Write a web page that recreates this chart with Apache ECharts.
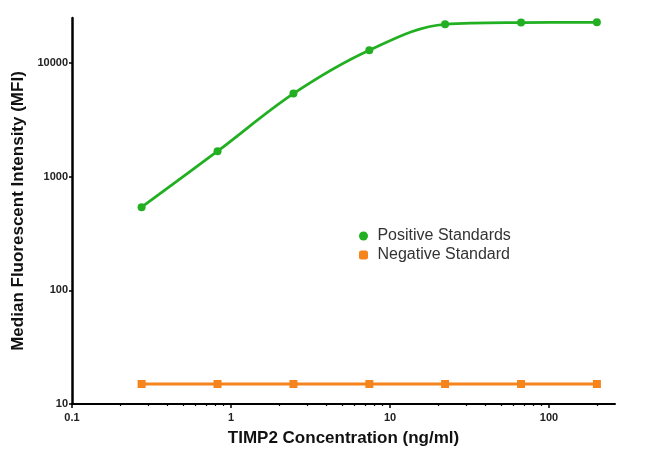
<!DOCTYPE html>
<html>
<head>
<meta charset="utf-8">
<script src="https://cdn.jsdelivr.net/npm/echarts@6/dist/echarts.min.js"></script>
<style>html,body{margin:0;padding:0;background:#fff}#c{width:650px;height:455px}</style>
</head>
<body>
<div id="c"></div>
<script>
var concentrations = [0.274, 0.823, 2.47, 7.41, 22.2, 66.7, 200];
var positiveMFI = [540, 1680, 5400, 13000, 22000, 22800, 22900];
var negativeMFI = [15, 15, 15, 15, 15, 15, 15];
var xMajorTicks = [0.1, 1, 10, 100];
var xMinorTicks = [0.2,0.3,0.4,0.5,0.6,0.7,0.8,0.9,2,3,4,5,6,7,8,9,20,30,40,50,60,70,80,90,200];
var yMajorTicks = [10, 100, 1000, 10000];
var seriesNames = ['Positive Standards', 'Negative Standard'];

var chart = echarts.init(document.getElementById('c'), null, {renderer: 'canvas'});
var FONT = 'Liberation Sans, Arial, sans-serif';
function pairs(xs, ys) { return xs.map(function (x, i) { return [x, ys[i]]; }); }

chart.setOption({
  animation: false,
  backgroundColor: '#fff',
  grid: {left: 72, right: 35, top: 18, bottom: 51},
  legend: {
    left: 354, top: 223, orient: 'vertical', itemGap: 3,
    itemWidth: 9, itemHeight: 9,
    formatter: function (n) { return ' ' + n; },
    textStyle: {fontFamily: FONT, fontSize: 16, color: '#333'},
    data: [
      {name: seriesNames[0], icon: 'circle'},
      {name: seriesNames[1], icon: 'roundRect'}
    ]
  },
  xAxis: [{
    type: 'log', logBase: 10, min: 0.1, max: 260,
    name: 'TIMP2 Concentration (ng/ml)', nameLocation: 'middle', nameGap: 26,
    nameTextStyle: {fontFamily: FONT, fontSize: 17, fontWeight: 'bold', color: '#111'},
    axisLine: {lineStyle: {color: '#000', width: 2}},
    axisTick: {show: true, length: 4, lineStyle: {color: '#000', width: 1.5}, customValues: xMajorTicks},
    axisLabel: {customValues: xMajorTicks, fontFamily: FONT, fontSize: 11, fontWeight: 'bold', color: '#222', margin: 8,
      formatter: function (v) { return String(+v.toPrecision(6)); }},
    splitLine: {show: false}
  }, {
    type: 'log', logBase: 10, min: 0.1, max: 260, position: 'bottom',
    axisLine: {show: false},
    axisTick: {show: true, length: 2, lineStyle: {color: '#000', width: 1.2}, customValues: xMinorTicks},
    axisLabel: {show: false},
    splitLine: {show: false}
  }],
  yAxis: {
    type: 'log', logBase: 10, min: 10, max: 25000,
    name: 'Median Fluorescent Intensity (MFI)', nameLocation: 'middle', nameGap: 44,
    nameTextStyle: {fontFamily: FONT, fontSize: 17, fontWeight: 'bold', color: '#111'},
    axisLine: {lineStyle: {color: '#000', width: 2.5}},
    axisTick: {show: true, length: 3, lineStyle: {color: '#000', width: 1.5}, customValues: yMajorTicks},
    axisLabel: {customValues: yMajorTicks, fontFamily: FONT, fontSize: 11, fontWeight: 'bold', color: '#222', margin: 4,
      formatter: function (v) { return String(Math.round(v)); }},
    splitLine: {show: false}
  },
  series: [{
    name: seriesNames[0], type: 'line', xAxisIndex: 0,
    data: pairs(concentrations, positiveMFI),
    smooth: 0.35,
    symbol: 'circle', symbolSize: 8,
    lineStyle: {color: '#22b022', width: 2.8},
    itemStyle: {color: '#22b022'}
  }, {
    name: seriesNames[1], type: 'line', xAxisIndex: 0,
    data: pairs(concentrations, negativeMFI),
    symbol: 'rect', symbolSize: 8,
    lineStyle: {color: '#f5841c', width: 2.8},
    itemStyle: {color: '#f5841c'}
  }]
});
</script>
</body>
</html>
